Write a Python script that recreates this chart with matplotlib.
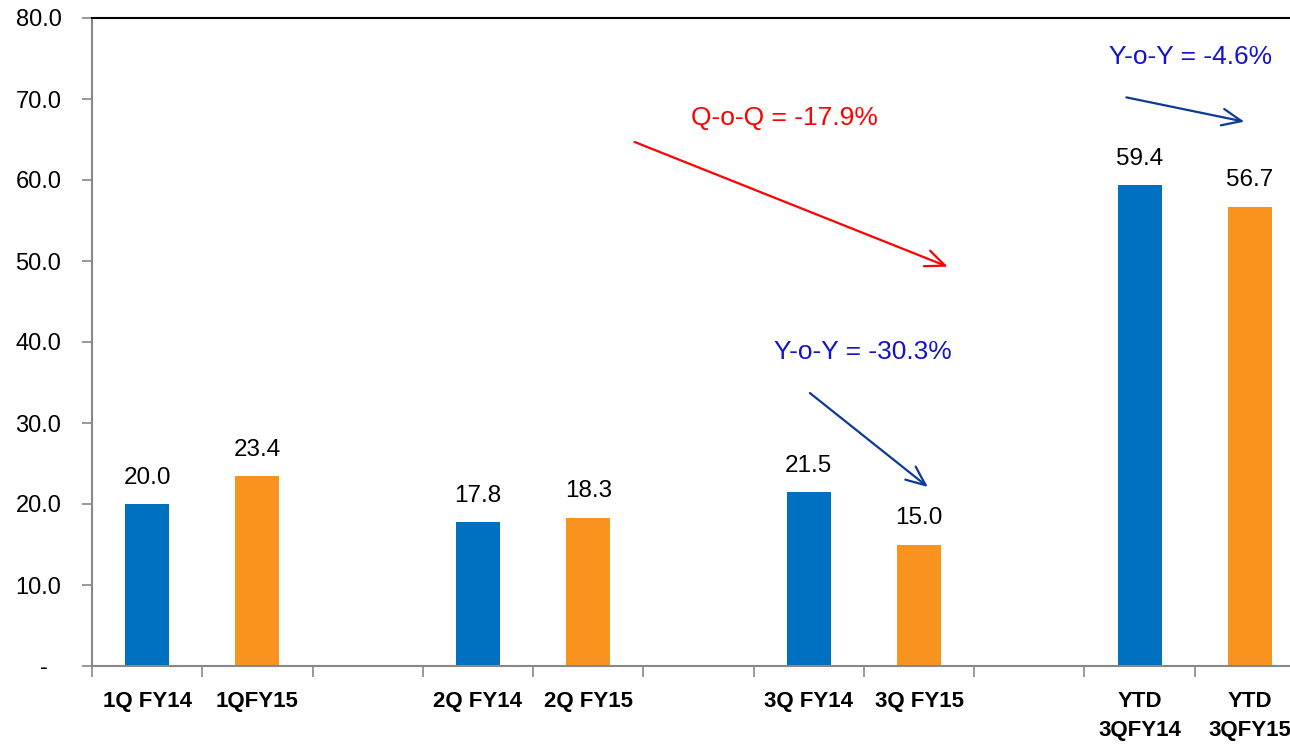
import matplotlib
matplotlib.use("Agg")
import matplotlib.pyplot as plt

# ---- data ----
groups = ["1Q", "2Q", "3Q", "YTD"]
fy14_labels = ["1Q FY14", "2Q FY14", "3Q FY14", "YTD\n3QFY14"]
fy15_labels = ["1QFY15", "2Q FY15", "3Q FY15", "YTD\n3QFY15"]
fy14_values = [20.0, 17.8, 21.5, 59.4]
fy15_values = [23.4, 18.3, 15.0, 56.7]
y_ticks = [0, 10, 20, 30, 40, 50, 60, 70, 80]
y_tick_labels = ["-  ", "10.0", "20.0", "30.0", "40.0", "50.0", "60.0", "70.0", "80.0"]
annotations = [
    ("Q-o-Q = -17.9%", "#FF0000"),
    ("Y-o-Y = -30.3%", "#1414CC"),
    ("Y-o-Y = -4.6%", "#1414CC"),
]

BLUE = "#0070C0"
ORANGE = "#F7931E"

fig = plt.figure(figsize=(12.9, 7.47), dpi=100)
ax = fig.add_axes([92 / 1290, 81 / 747, 1213 / 1290, 648 / 747])

pos14 = [3 * i for i in range(len(groups))]
pos15 = [3 * i + 1 for i in range(len(groups))]
w = 0.4
b14 = ax.bar(pos14, fy14_values, width=w, color=BLUE, zorder=2)
b15 = ax.bar(pos15, fy15_values, width=w, color=ORANGE, zorder=2)

for bars, vals in ((b14, fy14_values), (b15, fy15_values)):
    for r, v in zip(bars, vals):
        ax.annotate(f"{v:.1f}", (r.get_x() + r.get_width() / 2, v),
                    xytext=(0, 11), textcoords="offset points",
                    ha="center", va="bottom", fontsize=17.5,
                    family="Liberation Sans", color="black")

n_slots = 3 * len(groups) - 1
ax.set_xlim(-0.5, n_slots - 0.5)
ax.set_ylim(0, 80)

ax.set_yticks(y_ticks)
ax.set_yticklabels(y_tick_labels, family="Liberation Sans", fontsize=17)
ax.tick_params(axis="y", length=7, color="#888888", width=1.2, pad=15)

ax.set_xticks(pos14 + pos15)
ax.set_xticklabels(fy14_labels + fy15_labels, family="Liberation Sans",
                   fontweight="bold", fontsize=16, linespacing=1.5)
ax.tick_params(axis="x", which="major", length=0, pad=18)
ax.set_xticks([i - 0.5 for i in range(n_slots + 1)], minor=True)
ax.tick_params(axis="x", which="minor", length=8, color="#888888", width=1.2)

for s in ("left", "bottom"):
    ax.spines[s].set_color("#888888")
    ax.spines[s].set_linewidth(1.5)
ax.spines["top"].set_color("black")
ax.spines["top"].set_linewidth(1.5)
ax.spines["right"].set_visible(False)

# annotations
txt_pos = [(5.78, 67.7), (6.49, 38.8), (9.46, 75.2)]
for (t, c), (x, y) in zip(annotations, txt_pos):
    ax.text(x, y, t, color=c, fontsize=19, family="Liberation Sans",
            ha="center", va="center")

arrows = [((4.42, 64.7), (7.26, 49.3), "#FF0000"),
          ((6.01, 33.7), (7.08, 22.1), "#0D3A99"),
          ((8.88, 70.2), (9.95, 67.2), "#0D3A99")]
for start, end, c in arrows:
    ax.annotate("", xy=end, xytext=start,
                arrowprops=dict(arrowstyle="->,head_length=1.4,head_width=0.6",
                                color=c, lw=1.6, shrinkA=0, shrinkB=0))

fig.savefig("out.png", dpi=100)
